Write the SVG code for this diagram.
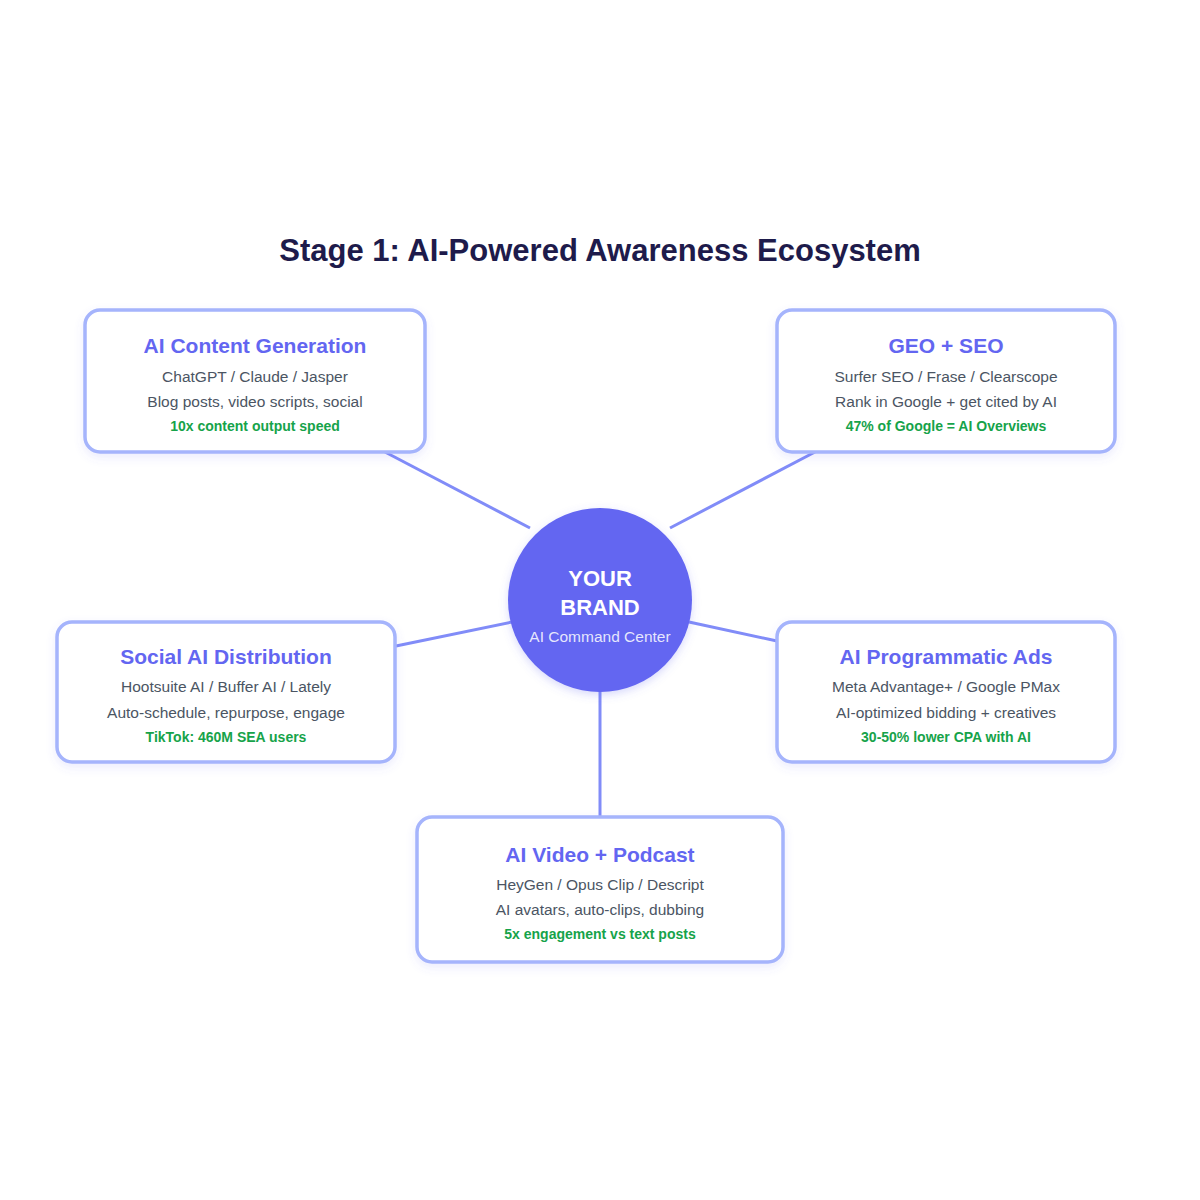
<svg xmlns="http://www.w3.org/2000/svg" width="1200" height="1200" viewBox="0 0 1200 1200">
<defs>
<filter id="shadow" x="-20%" y="-20%" width="140%" height="150%">
<feDropShadow dx="0" dy="4" stdDeviation="5" flood-color="#6366f1" flood-opacity="0.12"/>
</filter>
<filter id="cshadow" x="-30%" y="-30%" width="160%" height="160%">
<feDropShadow dx="0" dy="3" stdDeviation="4" flood-color="#6366f1" flood-opacity="0.25"/>
</filter>
<style>
.box{fill:#ffffff;stroke:#a5b4fc;stroke-width:3.5;filter:url(#shadow)}
.ttl{font-family:"Liberation Sans",Arial,sans-serif;font-weight:bold;font-size:21px;fill:#6366f1;text-anchor:middle}
.txt{font-family:"Liberation Sans",Arial,sans-serif;font-size:15.5px;fill:#4b5563;text-anchor:middle}
.grn{font-family:"Liberation Sans",Arial,sans-serif;font-weight:bold;font-size:14px;fill:#16a34a;text-anchor:middle}
.conn{stroke:#818cf8;stroke-width:3;stroke-linecap:butt}
</style>
</defs>
<rect width="1200" height="1200" fill="#ffffff"/>
<text x="600" y="261" font-family="Liberation Sans,Arial,sans-serif" font-weight="bold" font-size="31" fill="#1e1b4b" text-anchor="middle">Stage 1: AI-Powered Awareness Ecosystem</text>
<g id="connectors">
<line class="conn" x1="385" y1="452" x2="530" y2="528"/>
<line class="conn" x1="815" y1="452" x2="670" y2="528"/>
<line class="conn" x1="396" y1="646" x2="512" y2="622"/>
<line class="conn" x1="777" y1="641" x2="689" y2="622"/>
<line class="conn" x1="600" y1="690" x2="600" y2="817"/>
</g>
<g id="center">
<circle cx="600" cy="600" r="92" fill="#6366f1" filter="url(#cshadow)"/>
<text x="600" y="586" font-family="Liberation Sans,Arial,sans-serif" font-weight="bold" font-size="22" fill="#ffffff" text-anchor="middle">YOUR</text>
<text x="600" y="615" font-family="Liberation Sans,Arial,sans-serif" font-weight="bold" font-size="22" fill="#ffffff" text-anchor="middle">BRAND</text>
<text x="600" y="642" font-family="Liberation Sans,Arial,sans-serif" font-size="15.5" fill="#ffffff" fill-opacity="0.85" text-anchor="middle">AI Command Center</text>
</g>
<g id="content-generation">
<rect class="box" x="85" y="310" width="340" height="142" rx="15"/>
<text class="ttl" x="255" y="353">AI Content Generation</text>
<text class="txt" x="255" y="382">ChatGPT / Claude / Jasper</text>
<text class="txt" x="255" y="407">Blog posts, video scripts, social</text>
<text class="grn" x="255" y="431">10x content output speed</text>
</g>
<g id="geo-seo">
<rect class="box" x="777" y="310" width="338" height="142" rx="15"/>
<text class="ttl" x="946" y="353">GEO + SEO</text>
<text class="txt" x="946" y="382">Surfer SEO / Frase / Clearscope</text>
<text class="txt" x="946" y="407">Rank in Google + get cited by AI</text>
<text class="grn" x="946" y="431">47% of Google = AI Overviews</text>
</g>
<g id="social-distribution">
<rect class="box" x="57" y="622" width="338" height="140" rx="15"/>
<text class="ttl" x="226" y="664">Social AI Distribution</text>
<text class="txt" x="226" y="692">Hootsuite AI / Buffer AI / Lately</text>
<text class="txt" x="226" y="718">Auto-schedule, repurpose, engage</text>
<text class="grn" x="226" y="742">TikTok: 460M SEA users</text>
</g>
<g id="programmatic-ads">
<rect class="box" x="777" y="622" width="338" height="140" rx="15"/>
<text class="ttl" x="946" y="664">AI Programmatic Ads</text>
<text class="txt" x="946" y="692">Meta Advantage+ / Google PMax</text>
<text class="txt" x="946" y="718">AI-optimized bidding + creatives</text>
<text class="grn" x="946" y="742">30-50% lower CPA with AI</text>
</g>
<g id="video-podcast">
<rect class="box" x="417" y="817" width="366" height="145" rx="15"/>
<text class="ttl" x="600" y="862">AI Video + Podcast</text>
<text class="txt" x="600" y="890">HeyGen / Opus Clip / Descript</text>
<text class="txt" x="600" y="915">AI avatars, auto-clips, dubbing</text>
<text class="grn" x="600" y="939">5x engagement vs text posts</text>
</g>
</svg>
